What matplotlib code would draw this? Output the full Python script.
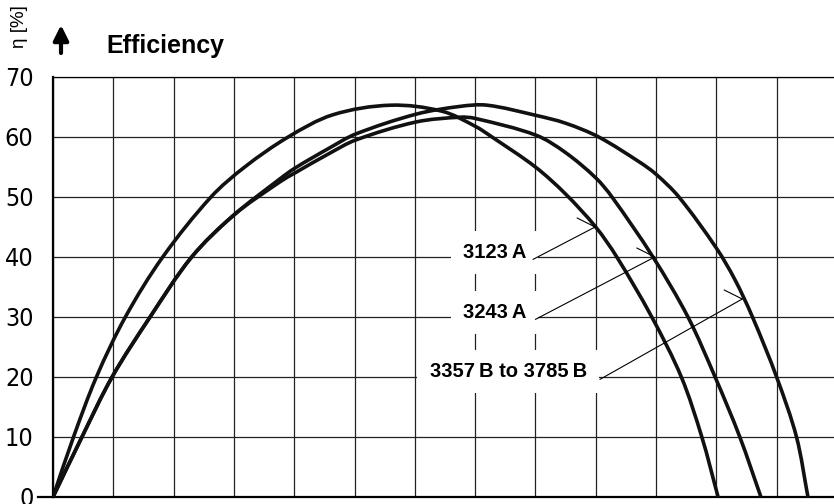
import numpy as np
import matplotlib
matplotlib.use('Agg')
import matplotlib.pyplot as plt
from matplotlib.path import Path
from matplotlib.patches import PathPatch

# curve readings (x in grid units, efficiency in %)
u_3123 = [0, 0.34, 0.72, 1.2, 1.82, 2.62, 3.18, 3.9, 4.64, 5.6, 6.45,
          7.0, 7.28, 8.0, 8.5, 9.0, 9.35, 9.93, 10.42, 10.76, 11.03]
eta_3123 = [0, 10, 20, 30, 40, 50, 55, 60, 63.7, 65.3, 64.3,
            61.8, 60, 55.0, 50.5, 45, 40, 30, 20, 10, 0]

u_3243 = [0, 0.48, 0.98, 1.61, 2.3, 3.0, 3.76, 4.01, 4.59, 5.02, 6.02, 6.75,
          7.0, 8.01, 8.5, 9.0, 9.27, 9.95, 10.53, 10.98, 11.39, 11.74]
eta_3243 = [0, 10, 20, 30, 40, 47.0, 52.5, 54.0, 57.3, 59.5, 62.5, 63.3,
            63.1, 60.3, 57.4, 53.2, 50, 40, 30, 20, 10, 0]

u_3357 = [0, 0.48, 0.98, 1.61, 2.3, 3.0, 3.76, 4.01, 4.59, 5.02, 6.02, 6.75,
          7.2, 8.01, 8.5, 9.05, 9.73, 10.0, 10.38, 11.0, 11.31, 11.6, 12.0, 12.33, 12.52]
eta_3357 = [0, 10, 20, 30, 40, 47.0, 53.0, 54.8, 58.2, 60.5, 63.8, 65.1,
            65.3, 63.6, 62.3, 60.0, 55.8, 53.8, 50.0, 41.5, 36.2, 30, 20, 10, 0]

labels = ['3123\u2009A', '3243\u2009A', '3357\u2009B to 3785\u2009B']
# leader tip on curve, leader tail at label
tip_u = [8.99, 9.98, 11.43]
tip_eta = [45.0, 40.0, 33.0]
tail_u = [7.96, 8.0, 9.07]
tail_eta = [39.6, 29.6, 19.6]
text_u = [7.85, 7.85, 8.85]
text_eta = [39.8, 29.8, 20.0]

y_ticks = [0, 10, 20, 30, 40, 50, 60, 70]


def smooth_path(xs, ys, sx=60.3, sy=6.0):
    # cubic bezier segments through the read points (tangents from neighbours)
    p = np.column_stack([np.array(xs) * sx, np.array(ys) * sy])
    n = len(p)
    tang = np.zeros_like(p)
    for i in range(n):
        a = p[max(i - 1, 0)]
        b = p[min(i + 1, n - 1)]
        d = b - a
        tang[i] = d / np.hypot(*d)
    verts = [p[0]]
    codes = [Path.MOVETO]
    for i in range(n - 1):
        L = np.hypot(*(p[i + 1] - p[i])) / 3
        verts += [p[i] + tang[i] * L, p[i + 1] - tang[i + 1] * L, p[i + 1]]
        codes += [Path.CURVE4] * 3
    verts = np.array(verts) / [sx, sy]
    return Path(verts, codes)


fig = plt.figure(figsize=(8.34, 5.04), dpi=100)
ax = fig.add_axes([53/834, 7/504, 781/834, 420/504])

ax.set_xlim(0, 781/60.3)
ax.set_ylim(0, 70)
ax.set_xticks(range(0, 13))
ax.set_yticks(y_ticks)
ax.set_xticklabels([])
ax.grid(True, color='#222222', lw=0.9)
ax.set_axisbelow(True)
ax.tick_params(axis='both', length=0)
ax.tick_params(axis='y', pad=14)
for lab in ax.get_yticklabels():
    lab.set_family(['Liberation Sans Narrow', 'DejaVu Sans'])
    lab.set_fontstretch('condensed')
    lab.set_fontsize(18)

ax.spines['right'].set_visible(False)
ax.spines['top'].set_linewidth(0.9)
ax.spines['left'].set_linewidth(1.6)
ax.spines['bottom'].set_linewidth(1.6)
# little tick to the left of zero
ax.axhline(0, xmin=-15/781, xmax=0, color='black', lw=1.6, clip_on=False)

for u, e in [(u_3123, eta_3123), (u_3243, eta_3243), (u_3357, eta_3357)]:
    ax.add_patch(PathPatch(smooth_path(u, e), fill=False, ec='#111111', lw=2.6,
                           capstyle='butt', joinstyle='round', zorder=4))

for i in range(3):
    ax.text(text_u[i], text_eta[i], labels[i], ha='right', va='baseline',
            fontsize=14.5, fontweight='bold', family=['Liberation Sans', 'DejaVu Sans'],
            zorder=3, bbox=dict(boxstyle='square,pad=0.6', fc='white', ec='none'))
    ax.annotate('', xy=(tip_u[i], tip_eta[i]), xytext=(tail_u[i], tail_eta[i]),
                arrowprops=dict(arrowstyle='-', lw=0.8, color='black',
                                shrinkA=0, shrinkB=0), zorder=5)
    ax.annotate('', xy=(tip_u[i], tip_eta[i]), xytext=(-13, 6.5),
                textcoords='offset points',
                arrowprops=dict(arrowstyle='-', lw=0.8, color='black',
                                shrinkA=0, shrinkB=0), zorder=5)

fig.text(106/834, 1 - 53/504, 'Efficiency', fontsize=18, fontweight='bold',
         family=['Liberation Sans', 'DejaVu Sans'], va='baseline', ha='left')
fig.text(19/834, 1 - 27/504, '\u03b7 [%]', fontsize=13.5, rotation=90,
         family=['Liberation Sans', 'DejaVu Sans'], va='center', ha='center')
ax.annotate('', xy=(61/834, 1 - 25/504), xytext=(61/834, 1 - 53/504),
            xycoords='figure fraction', textcoords='figure fraction',
            arrowprops=dict(arrowstyle='-|>,head_length=0.9,head_width=0.45',
                            lw=3, color='black', shrinkA=0, shrinkB=0))

fig.savefig('out.png', dpi=100)
